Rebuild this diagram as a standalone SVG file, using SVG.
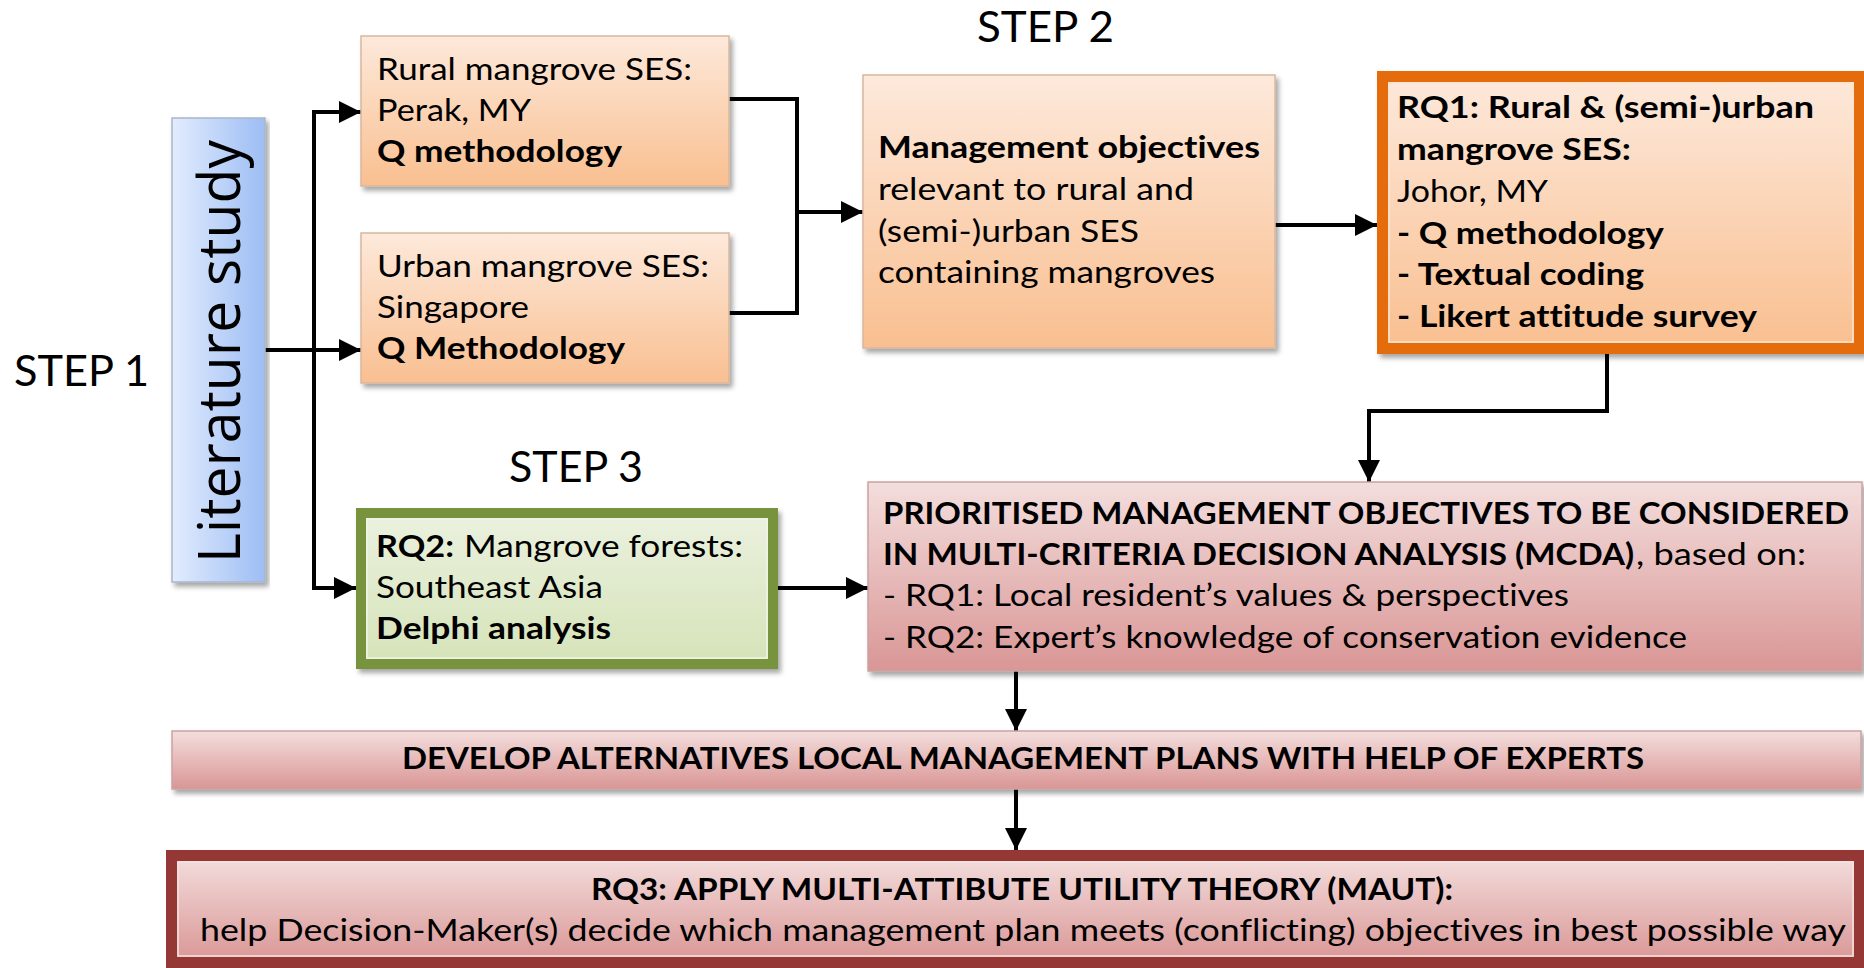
<svg xmlns="http://www.w3.org/2000/svg" width="1864" height="968" viewBox="0 0 1864 968">
<style>
text{font-variant-ligatures:none;font-feature-settings:"liga" 0,"clig" 0}
.t{font-family:Lato,"Liberation Sans",sans-serif;font-size:30px;fill:#000}
.b{font-weight:bold}
.step{font-family:Lato,"Liberation Sans",sans-serif;font-size:43px;fill:#000}
.lit{font-family:"Open Sans","DejaVu Sans",sans-serif;font-size:59px;fill:#000}
.c{fill:none;stroke:#000;stroke-width:4;stroke-linejoin:miter}
.ca{fill:none;stroke:#000;stroke-width:4;marker-end:url(#ah)}
</style>
<defs>
<linearGradient id="gOr" x1="0" y1="0" x2="0" y2="1"><stop offset="0" stop-color="#FDE9DB"/><stop offset="1" stop-color="#F9BF90"/></linearGradient>
<linearGradient id="gBl" x1="0" y1="0" x2="1" y2="0"><stop offset="0" stop-color="#E2ECFE"/><stop offset="1" stop-color="#9DBDF4"/></linearGradient>
<linearGradient id="gGr" x1="0" y1="0" x2="0" y2="1"><stop offset="0" stop-color="#EBF1DF"/><stop offset="1" stop-color="#D5E3B8"/></linearGradient>
<linearGradient id="gPk" x1="0" y1="0" x2="0" y2="1"><stop offset="0" stop-color="#F3DEDD"/><stop offset="1" stop-color="#D99695"/></linearGradient>
<filter id="sh" x="-5%" y="-5%" width="110%" height="120%"><feDropShadow dx="3" dy="4" stdDeviation="2.5" flood-color="#000" flood-opacity="0.35"/></filter>
<marker id="ah" markerUnits="userSpaceOnUse" markerWidth="22" markerHeight="22" refX="22" refY="11" orient="auto"><path d="M0,0 L22,11 L0,22 z" fill="#000"/></marker>
</defs>
<rect width="1864" height="968" fill="#fff"/>

<text class="step" x="14" y="386" textLength="135" lengthAdjust="spacingAndGlyphs">STEP 1</text>
<text class="step" x="977" y="42" textLength="137" lengthAdjust="spacingAndGlyphs">STEP 2</text>
<text class="step" x="509" y="482" textLength="134" lengthAdjust="spacingAndGlyphs">STEP 3</text>

<g id="connectors">
<path class="c" d="M265,350 H314"/>
<path class="c" d="M314,112 V588"/>
<path class="ca" d="M314,350 H361"/>
<path class="ca" d="M312,112 H361"/>
<path class="ca" d="M312,588 H356"/>
<path class="c" d="M729,99 H797 V313 H729"/>
<path class="ca" d="M797,212 H863"/>
<path class="ca" d="M1275,225 H1377"/>
<path class="ca" d="M1607,354 V411 H1369 V482"/>
<path class="ca" d="M778,588 H868"/>
<path class="ca" d="M1016,671 V731"/>
<path class="ca" d="M1016,789 V850"/>
</g>

<g id="literature">
<rect x="172" y="118" width="93" height="464" fill="url(#gBl)" stroke="#a9b6c8" stroke-width="1.5" filter="url(#sh)"/>
<text class="lit" transform="translate(240,563) rotate(-90)" x="0" y="0" textLength="423" lengthAdjust="spacingAndGlyphs">Literature study</text>
</g>

<g id="rural">
<rect x="361" y="36" width="368" height="150" fill="url(#gOr)" stroke="#d9b79d" stroke-width="1.5" filter="url(#sh)"/>
<text class="t" x="377" y="80" textLength="315" lengthAdjust="spacingAndGlyphs">Rural mangrove SES:</text>
<text class="t" x="377" y="121" textLength="154" lengthAdjust="spacingAndGlyphs">Perak, MY</text>
<text class="t b" x="377" y="162" textLength="245" lengthAdjust="spacingAndGlyphs">Q methodology</text>
</g>

<g id="urban">
<rect x="361" y="233" width="368" height="150" fill="url(#gOr)" stroke="#d9b79d" stroke-width="1.5" filter="url(#sh)"/>
<text class="t" x="377" y="277" textLength="332" lengthAdjust="spacingAndGlyphs">Urban mangrove SES:</text>
<text class="t" x="377" y="318" textLength="152" lengthAdjust="spacingAndGlyphs">Singapore</text>
<text class="t b" x="377" y="359" textLength="248" lengthAdjust="spacingAndGlyphs">Q Methodology</text>
</g>

<g id="management">
<rect x="863" y="75" width="412" height="273" fill="url(#gOr)" stroke="#d9b79d" stroke-width="1.5" filter="url(#sh)"/>
<text class="t b" x="878" y="158" textLength="382" lengthAdjust="spacingAndGlyphs">Management objectives</text>
<text class="t" x="878" y="200" textLength="316" lengthAdjust="spacingAndGlyphs">relevant to rural and</text>
<text class="t" x="878" y="242" textLength="261" lengthAdjust="spacingAndGlyphs">(semi-)urban SES</text>
<text class="t" x="878" y="283" textLength="337" lengthAdjust="spacingAndGlyphs">containing mangroves</text>
</g>

<g id="rq1">
<rect x="1382.5" y="76.5" width="477" height="272" fill="url(#gOr)" stroke="#E46C0A" stroke-width="11" filter="url(#sh)"/>
<rect x="1389" y="83" width="464" height="259" fill="none" stroke="#fbe3d0" stroke-width="1.5"/>
<text class="t b" x="1397" y="118" textLength="417" lengthAdjust="spacingAndGlyphs">RQ1: Rural &amp; (semi-)urban</text>
<text class="t b" x="1397" y="160" textLength="234" lengthAdjust="spacingAndGlyphs">mangrove SES:</text>
<text class="t" x="1397" y="202" textLength="151" lengthAdjust="spacingAndGlyphs">Johor, MY</text>
<text class="t b" x="1397" y="244" textLength="267" lengthAdjust="spacingAndGlyphs">- Q methodology</text>
<text class="t b" x="1397" y="285" textLength="247" lengthAdjust="spacingAndGlyphs">- Textual coding</text>
<text class="t b" x="1397" y="327" textLength="360" lengthAdjust="spacingAndGlyphs">- Likert attitude survey</text>
</g>

<g id="rq2">
<rect x="361" y="513" width="412" height="151" fill="url(#gGr)" stroke="#77933C" stroke-width="10" filter="url(#sh)"/>
<rect x="367" y="519" width="400" height="139" fill="none" stroke="#f0f5e6" stroke-width="1.5"/>
<text class="t b" x="376" y="557" textLength="78" lengthAdjust="spacingAndGlyphs">RQ2:</text>
<text class="t" x="464" y="557" textLength="279" lengthAdjust="spacingAndGlyphs">Mangrove forests:</text>
<text class="t" x="376" y="598" textLength="227" lengthAdjust="spacingAndGlyphs">Southeast Asia</text>
<text class="t b" x="376" y="639" textLength="235" lengthAdjust="spacingAndGlyphs">Delphi analysis</text>
</g>

<g id="prioritised">
<rect x="868" y="482" width="994" height="189" fill="url(#gPk)" stroke="#c9a3a2" stroke-width="1.5" filter="url(#sh)"/>
<text class="t b" x="883" y="524" textLength="966" lengthAdjust="spacingAndGlyphs">PRIORITISED MANAGEMENT OBJECTIVES TO BE CONSIDERED</text>
<text class="t b" x="883" y="565" textLength="751" lengthAdjust="spacingAndGlyphs">IN MULTI-CRITERIA DECISION ANALYSIS (MCDA)</text>
<text class="t" x="1636" y="565" textLength="170" lengthAdjust="spacingAndGlyphs">, based on:</text>
<text class="t" x="883" y="606" textLength="686" lengthAdjust="spacingAndGlyphs">- RQ1: Local resident’s values &amp; perspectives</text>
<text class="t" x="883" y="648" textLength="804" lengthAdjust="spacingAndGlyphs">- RQ2: Expert’s knowledge of conservation evidence</text>
</g>

<g id="develop">
<rect x="172" y="731" width="1689" height="58" fill="url(#gPk)" stroke="#c9a3a2" stroke-width="1.5" filter="url(#sh)"/>
<text class="t b" x="402" y="769" textLength="1242" lengthAdjust="spacingAndGlyphs">DEVELOP ALTERNATIVES LOCAL MANAGEMENT PLANS WITH HELP OF EXPERTS</text>
</g>

<g id="rq3">
<rect x="171.5" y="855.5" width="1688" height="107" fill="url(#gPk)" stroke="#953735" stroke-width="11"/>
<rect x="178" y="862" width="1675" height="94" fill="none" stroke="#f5e2e1" stroke-width="1.5"/>
<text class="t b" x="591" y="900" textLength="862" lengthAdjust="spacingAndGlyphs">RQ3: APPLY MULTI-ATTIBUTE UTILITY THEORY (MAUT):</text>
<text class="t" x="200" y="941" textLength="1646" lengthAdjust="spacingAndGlyphs">help Decision-Maker(s) decide which management plan meets (conflicting) objectives in best possible way</text>
</g>
</svg>
